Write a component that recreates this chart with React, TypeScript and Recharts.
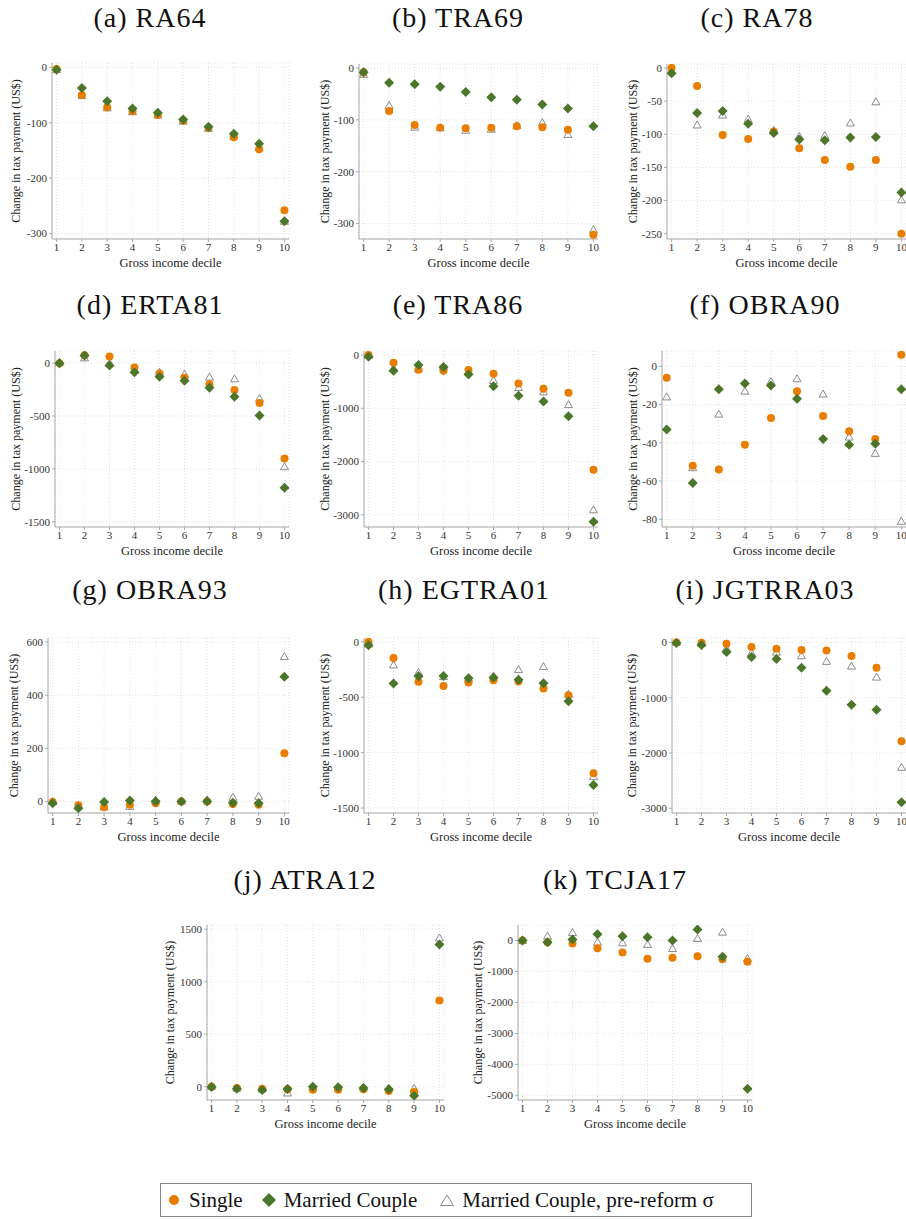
import { ScatterChart, Scatter, XAxis, YAxis, CartesianGrid } from 'recharts';

const deciles = [1, 2, 3, 4, 5, 6, 7, 8, 9, 10];

// (a) RA64
const ra64Single = [-3, -50, -72, -79, -86, -96, -109, -126, -148, -258];
const ra64Married = [-4, -37, -61, -74, -82, -94, -107, -120, -138, -278];
const ra64PreReform = [-4, -51, -73, -80, -86, -97, -110, -124, -145, -278];

// (b) TRA69
const tra69Single = [-8, -83, -110, -115, -116, -115, -112, -114, -119, -322];
const tra69Married = [-8, -28, -31, -36, -46, -56, -61, -70, -78, -112];
const tra69PreReform = [-12, -72, -114, -115, -120, -118, -111, -105, -128, -312];

// (c) RA78
const ra78Single = [0, -27, -101, -107, -96, -121, -139, -149, -139, -250];
const ra78Married = [-8, -68, -65, -84, -98, -108, -109, -105, -104, -188];
const ra78PreReform = [-4, -86, -71, -77, -94, -103, -102, -83, -51, -199];

// (d) ERTA81
const erta81Single = [0, 75, 63, -41, -98, -139, -199, -255, -378, -901];
const erta81Married = [0, 72, -22, -85, -129, -167, -233, -318, -495, -1178];
const erta81PreReform = [6, 50, 0, -66, -85, -104, -132, -148, -334, -980];

// (e) TRA86
const tra86Single = [0, -145, -277, -296, -283, -352, -535, -635, -711, -2157];
const tra86Married = [-31, -296, -189, -226, -365, -585, -767, -874, -1151, -3132];
const tra86PreReform = [-6, -252, -258, -214, -302, -478, -610, -692, -931, -2906];

// (f) OBRA90
const obra90Single = [-6, -52, -54, -41, -27, -13, -26, -34, -38, 6];
const obra90Married = [-33, -61, -12, -9, -10, -17, -38, -41, -40.5, -12];
const obra90PreReform = [-16, -53, -25, -13, -8, -6.5, -14.5, -37, -45.5, -81];

// (g) OBRA93
const obra93Single = [-2, -14, -21, -12, -6, 0, 0, -9, -12, 182];
const obra93Married = [-6, -25, -2, 4, 1, 0, 1, -4, -6, 469];
const obra93PreReform = [0, -15, -20, -18, 5, 2, 6, 16, 20, 545];

// (h) EGTRA01
const egtra01Single = [0, -145, -361, -398, -367, -346, -358, -422, -482, -1187];
const egtra01Married = [-30, -376, -310, -307, -328, -322, -343, -373, -536, -1292];
const egtra01PreReform = [-18, -208, -277, -313, -331, -310, -250, -223, -473, -1217];

// (i) JGTRRA03
const jgtrra03Single = [0, -6, -24, -84, -114, -139, -145, -247, -458, -1789];
const jgtrra03Married = [-12, -48, -175, -265, -301, -458, -873, -1126, -1217, -2892];
const jgtrra03PreReform = [0, -18, -108, -193, -175, -241, -343, -428, -627, -2259];

// (j) ATRA12
const atra12Single = [0, -13, -19, -25, -29, -29, -25, -41, -51, 820];
const atra12Married = [-3, -19, -32, -22, 0, -6, -13, -25, -86, 1354];
const atra12PreReform = [3, -13, -22, -60, -3, -3, -6, -13, -16, 1417];

// (k) TCJA17
const tcja17Single = [0, -54, -97, -248, -388, -593, -560, -506, -603, -690];
const tcja17Married = [0, -54, 32, 205, 140, 108, 0, 356, -528, -4785];
const tcja17PreReform = [0, 140, 259, -54, -75, -129, -259, 65, 269, -582];

const SERIF = '"Liberation Serif", "DejaVu Serif", serif';
const ORANGE = '#e97d00';
const GREEN = '#4b7629';
const TRI = '#8c8c8c';
const AXIS = '#a9a9a9';

const toPoints = (vals: number[]) => deciles.map((d, i) => ({ x: d, y: vals[i] }));

const panels = [
  { title: '(a) RA64', s: ra64Single, m: ra64Married, p: ra64PreReform, domain: [-310, 8], ticks: [-300, -200, -100, 0], tx: 150, ty: 18, left: 8, plotL: 52, plotR: 289, plotT: 63, plotB: 239 },
  { title: '(b) TRA69', s: tra69Single, m: tra69Married, p: tra69PreReform, domain: [-330, 8], ticks: [-300, -200, -100, 0], tx: 458, ty: 18, left: 317, plotL: 359, plotR: 598, plotT: 64, plotB: 239 },
  { title: '(c) RA78', s: ra78Single, m: ra78Married, p: ra78PreReform, domain: [-258, 6], ticks: [-250, -200, -150, -100, -50, 0], tx: 757, ty: 18, left: 625, plotL: 667, plotR: 906, plotT: 64, plotB: 239 },
  { title: '(d) ERTA81', s: erta81Single, m: erta81Married, p: erta81PreReform, domain: [-1550, 115], ticks: [-1500, -1000, -500, 0], tx: 150, ty: 305, left: 8, plotL: 55, plotR: 289, plotT: 351, plotB: 527 },
  { title: '(e) TRA86', s: tra86Single, m: tra86Married, p: tra86PreReform, domain: [-3230, 75], ticks: [-3000, -2000, -1000, 0], tx: 458, ty: 305, left: 317, plotL: 364, plotR: 598, plotT: 351, plotB: 527 },
  { title: '(f) OBRA90', s: obra90Single, m: obra90Married, p: obra90PreReform, domain: [-84, 8], ticks: [-80, -60, -40, -20, 0], tx: 765, ty: 305, left: 625, plotL: 662, plotR: 906, plotT: 351, plotB: 527 },
  { title: '(g) OBRA93', s: obra93Single, m: obra93Married, p: obra93PreReform, domain: [-43, 615], ticks: [0, 200, 400, 600], tx: 150, ty: 590, left: 6, plotL: 48, plotR: 289, plotT: 638, plotB: 813 },
  { title: '(h) EGTRA01', s: egtra01Single, m: egtra01Married, p: egtra01PreReform, domain: [-1545, 35], ticks: [-1500, -1000, -500, 0], tx: 464, ty: 590, left: 317, plotL: 364, plotR: 598, plotT: 638, plotB: 813 },
  { title: '(i) JGTRRA03', s: jgtrra03Single, m: jgtrra03Married, p: jgtrra03PreReform, domain: [-3085, 80], ticks: [-3000, -2000, -1000, 0], tx: 765, ty: 590, left: 624, plotL: 672, plotR: 906, plotT: 638, plotB: 813 },
  { title: '(j) ATRA12', s: atra12Single, m: atra12Married, p: atra12PreReform, domain: [-127, 1540], ticks: [0, 500, 1000, 1500], tx: 305, ty: 880, left: 162, plotL: 207, plotR: 444, plotT: 925, plotB: 1100 },
  { title: '(k) TCJA17', s: tcja17Single, m: tcja17Married, p: tcja17PreReform, domain: [-5150, 500], ticks: [-5000, -4000, -3000, -2000, -1000, 0], tx: 615, ty: 880, left: 470, plotL: 518, plotR: 752, plotT: 925, plotB: 1100 },
];

const Dot = (props: any) => <circle cx={props.cx} cy={props.cy} r={4} fill={ORANGE} />;
const Diamond = (props: any) => {
  const { cx, cy } = props;
  return <polygon points={`${cx},${cy - 5} ${cx + 5},${cy} ${cx},${cy + 5} ${cx - 5},${cy}`} fill={GREEN} />;
};
const Triangle = (props: any) => {
  const { cx, cy } = props;
  return <polygon points={`${cx},${cy - 4} ${cx + 4},${cy + 3} ${cx - 4},${cy + 3}`} fill="none" stroke={TRI} strokeWidth={1} />;
};

const tickStyle = { fontFamily: SERIF, fontSize: 11, fill: '#333' };

function Panel({ p }: { p: (typeof panels)[number] }) {
  const mt = 6;
  const mr = 4;
  const mb = 6;
  const xh = 28;
  const yw = p.plotL - p.left;
  const W = p.plotR - p.left + mr;
  const H = p.plotB - p.plotT + mt + xh + mb;
  return (
    <>
      <div
        style={{
          position: 'absolute',
          left: p.tx - 150,
          top: p.ty - 17,
          width: 300,
          textAlign: 'center',
          fontFamily: SERIF,
          fontSize: 28,
          lineHeight: '34px',
          letterSpacing: 1,
          color: '#111',
        }}
      >
        {p.title}
      </div>
      <div style={{ position: 'absolute', left: p.left, top: p.plotT - mt }}>
        <ScatterChart width={W} height={H} margin={{ top: mt, right: mr, bottom: mb, left: 0 }}>
          <CartesianGrid stroke="#e2e2e2" strokeDasharray="1 2" />
          <XAxis
            type="number"
            dataKey="x"
            domain={[0.82, 10.18]}
            ticks={deciles}
            allowDataOverflow
            height={xh}
            stroke={AXIS}
            tickSize={3}
            tickMargin={1}
            tick={tickStyle}
            label={{ value: 'Gross income decile', position: 'insideBottom', offset: 0, style: { fontFamily: SERIF, fontSize: 12.5, fill: '#222' } }}
          />
          <YAxis
            type="number"
            dataKey="y"
            domain={p.domain}
            ticks={p.ticks}
            allowDataOverflow
            width={yw}
            stroke={AXIS}
            tickSize={3}
            tickMargin={2}
            tick={tickStyle}
            label={{ value: 'Change in tax payment (US$)', angle: -90, position: 'insideLeft', offset: 8, style: { textAnchor: 'middle', fontFamily: SERIF, fontSize: 12, fill: '#222' } }}
          />
          <Scatter data={toPoints(p.p)} shape={Triangle} isAnimationActive={false} />
          <Scatter data={toPoints(p.s)} shape={Dot} isAnimationActive={false} />
          <Scatter data={toPoints(p.m)} shape={Diamond} isAnimationActive={false} />
        </ScatterChart>
      </div>
    </>
  );
}

export default function App() {
  return (
    <div style={{ position: 'absolute', left: 0, top: 0, width: 906, height: 1220, overflow: 'hidden', background: '#fff' }}>
      {panels.map((p) => (
        <Panel key={p.title} p={p} />
      ))}
      <div
        style={{
          position: 'absolute',
          left: 160,
          top: 1183,
          width: 592,
          height: 34,
          boxSizing: 'border-box',
          border: '1px solid #888',
          display: 'flex',
          alignItems: 'center',
          fontFamily: SERIF,
          fontSize: 21,
          color: '#111',
        }}
      >
        <svg width={14} height={14} style={{ marginLeft: 6, marginRight: 8 }}>
          <circle cx={7} cy={7} r={5} fill={ORANGE} />
        </svg>
        <span>Single</span>
        <svg width={16} height={16} style={{ marginLeft: 18, marginRight: 7 }}>
          <polygon points="8,1 15,8 8,15 1,8" fill={GREEN} />
        </svg>
        <span>Married Couple</span>
        <svg width={16} height={14} style={{ marginLeft: 22, marginRight: 7 }}>
          <polygon points="8,2 14.5,12.5 1.5,12.5" fill="none" stroke={TRI} strokeWidth={1} />
        </svg>
        <span>Married Couple, pre-reform σ</span>
      </div>
    </div>
  );
}
